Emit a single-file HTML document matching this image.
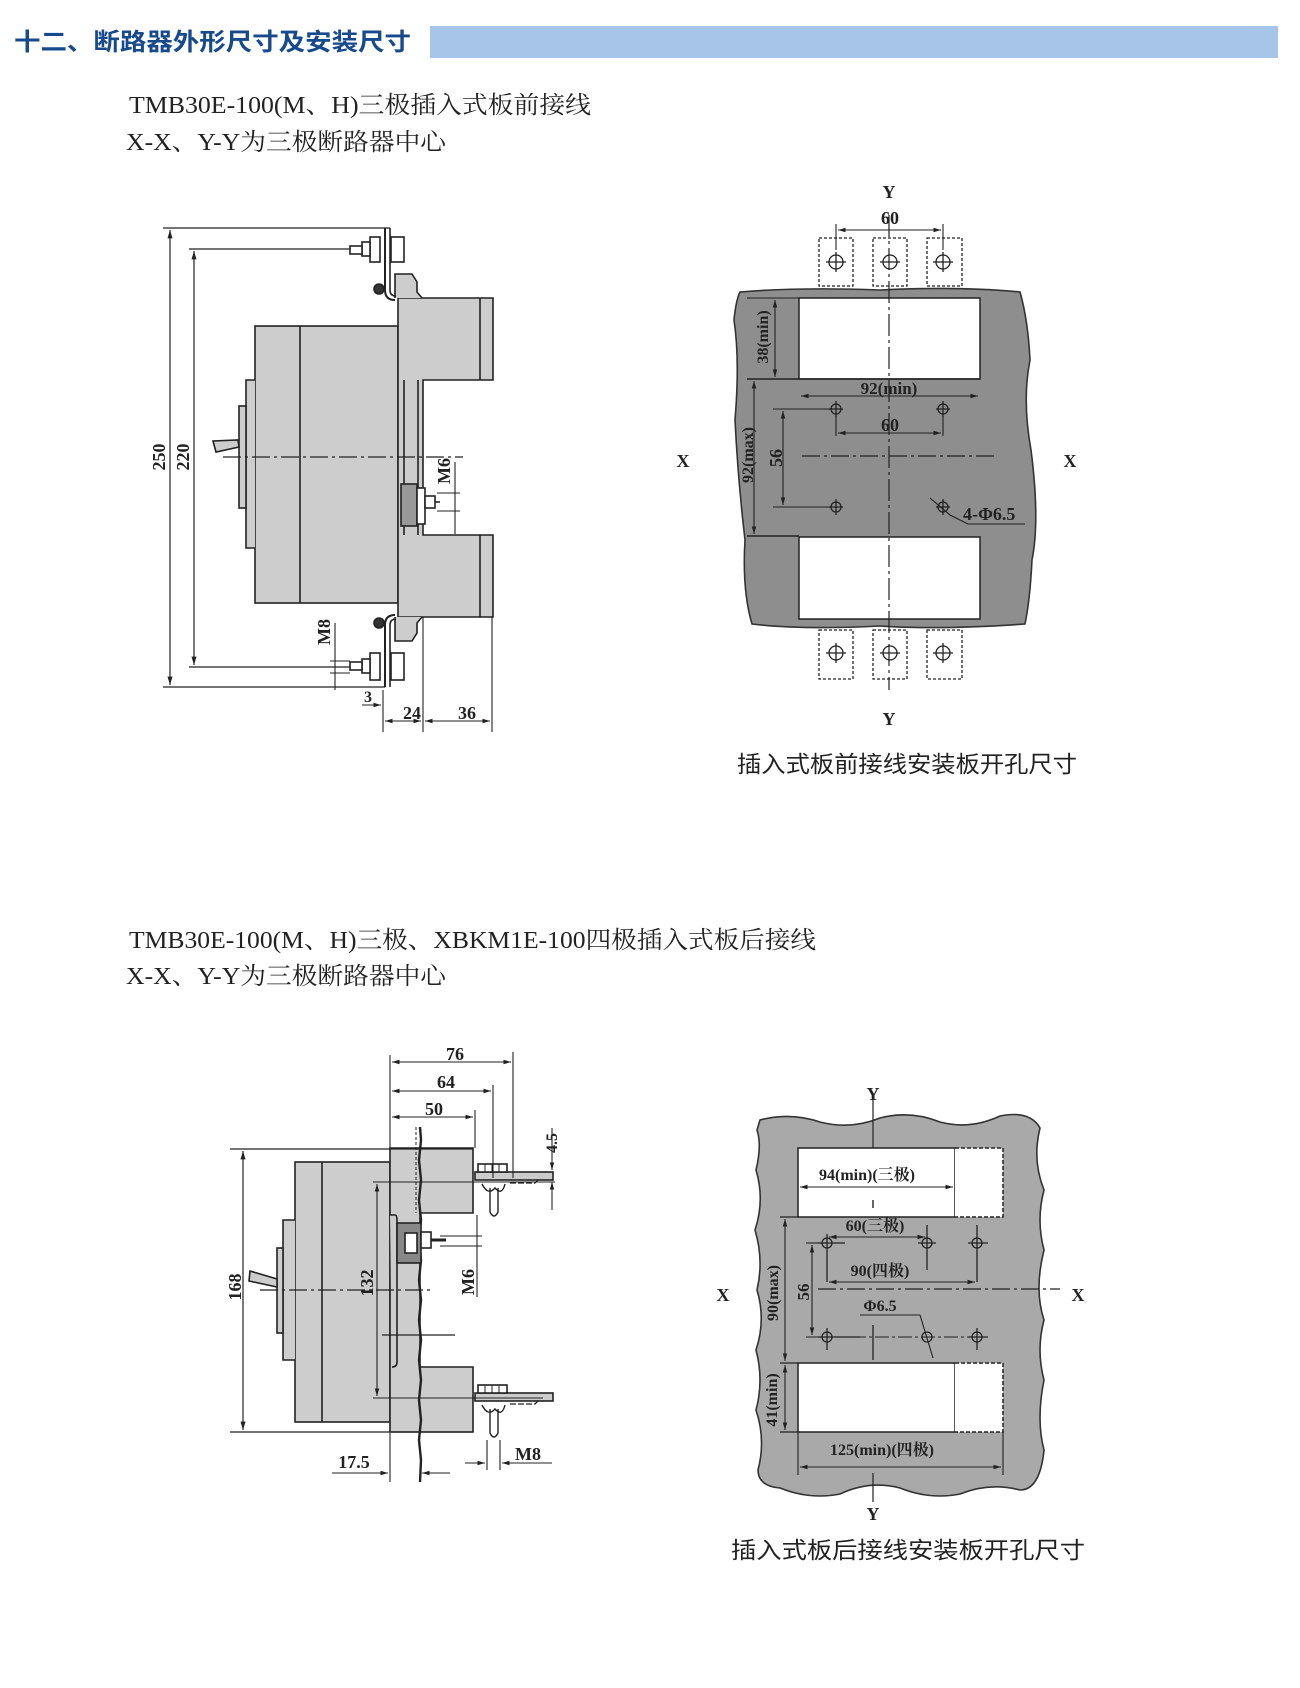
<!DOCTYPE html>
<html><head><meta charset="utf-8">
<style>
html,body{margin:0;padding:0;background:#fff;}
svg{display:block;}
.t{font-family:"Liberation Serif","Noto Serif CJK SC",serif;font-weight:bold;fill:#222;}
.s{font-family:"Liberation Serif","Noto Serif CJK SC",serif;fill:#222;}
.c{font-family:"Liberation Sans","Noto Sans CJK SC",sans-serif;fill:#222;}
</style></head>
<body>
<svg width="1300" height="1688" viewBox="0 0 1300 1688" xmlns="http://www.w3.org/2000/svg">
<defs>
<marker id="a" viewBox="0 0 10 10" refX="10" refY="5" markerWidth="7" markerHeight="7" orient="auto-start-reverse"><path d="M0,2 L10,5 L0,8 z" fill="#222"/></marker>
</defs>
<text x="14" y="50" font-family="'Liberation Sans','Noto Sans CJK SC',sans-serif" font-weight="bold" font-size="24" fill="#174a8c" textLength="397" lengthAdjust="spacingAndGlyphs">十二、断路器外形尺寸及安装尺寸</text>
<rect x="430" y="26" width="848" height="32" fill="#a6c5e8"/>

<text x="129" y="113" class="s" font-size="24" textLength="462" lengthAdjust="spacingAndGlyphs">TMB30E-100(M、H)三极插入式板前接线</text>
<text x="126" y="150" class="s" font-size="24" textLength="320" lengthAdjust="spacingAndGlyphs">X-X、Y-Y为三极断路器中心</text>

<g stroke="#222" stroke-width="1.6" fill="none">
<rect x="255" y="326" width="143" height="277" fill="#cdcdcd"/>
<path d="M255 380 H246 V548 H255" fill="#cdcdcd"/>
<rect x="239" y="406" width="7" height="102" fill="#cdcdcd"/>
<line x1="300" y1="326" x2="300" y2="603"/>
<path d="M213 441 L216 452 L239 447 L238 440 Z" fill="#cdcdcd"/>
<path d="M398 298 H493 V380 H423 V535 H493 V617 H398 Z" fill="#cdcdcd"/>
<line x1="480" y1="298" x2="480" y2="380"/>
<line x1="480" y1="535" x2="480" y2="617"/>
<path d="M395 298 V274 H412 L417 282 V292 L422 298" fill="#cdcdcd"/>
<path d="M395 617 V641 H412 L417 633 V623 L422 617" fill="#cdcdcd"/>
<line x1="404" y1="380" x2="404" y2="535"/>
<line x1="418" y1="380" x2="418" y2="535"/>
<path d="M385 228 V290 Q385 300 395 300" stroke-width="2"/>
<path d="M390 228 V290 Q390 296 396 296"/>
<path d="M385 687 V625 Q385 615 395 615" stroke-width="2"/>
<path d="M390 687 V625 Q390 619 396 619"/>
<rect x="370" y="237" width="10" height="25" fill="#fff"/>
<rect x="362" y="242" width="8" height="14" fill="#fff"/>
<rect x="350" y="246" width="12" height="8" fill="#fff"/>
<rect x="391" y="237" width="13" height="25" fill="#fff"/>
<rect x="370" y="653" width="10" height="27" fill="#fff"/>
<rect x="362" y="659" width="8" height="14" fill="#fff"/>
<rect x="350" y="662" width="12" height="8" fill="#fff"/>
<rect x="391" y="653" width="13" height="27" fill="#fff"/>
<circle cx="379" cy="289" r="5" fill="#333"/>
<circle cx="379" cy="623" r="5" fill="#333"/>
<rect x="401" y="484" width="16" height="42" fill="#999"/>
<rect x="417" y="488" width="8" height="36" fill="#fff"/>
<rect x="425" y="496" width="10" height="12" fill="#fff"/>
<line x1="435" y1="502" x2="440" y2="502"/>
<line x1="223" y1="457" x2="463" y2="457" stroke-dasharray="18 4 3 4" stroke-width="1.2"/>
<line x1="163" y1="228" x2="390" y2="228" stroke-width="1.2"/>
<line x1="189" y1="249" x2="350" y2="249" stroke-width="1.2"/>
<line x1="189" y1="667" x2="350" y2="667" stroke-width="1.2"/>
<line x1="163" y1="687" x2="385" y2="687" stroke-width="1.2"/>
<line x1="170" y1="230" x2="170" y2="685" stroke-width="1.2" marker-start="url(#a)" marker-end="url(#a)"/>
<line x1="194" y1="251" x2="194" y2="665" stroke-width="1.2" marker-start="url(#a)" marker-end="url(#a)"/>
<line x1="455" y1="462" x2="455" y2="534" stroke-width="1.1"/>
<line x1="437" y1="493" x2="460" y2="493" stroke-width="1"/>
<line x1="437" y1="511" x2="460" y2="511" stroke-width="1"/>
<line x1="335" y1="623" x2="335" y2="690" stroke-width="1.1"/>
<line x1="330" y1="661" x2="350" y2="661" stroke-width="1"/>
<line x1="330" y1="673" x2="350" y2="673" stroke-width="1"/>
<line x1="383" y1="690" x2="383" y2="732" stroke-width="1.1"/>
<line x1="423" y1="617" x2="423" y2="732" stroke-width="1.1"/>
<line x1="492" y1="617" x2="492" y2="732" stroke-width="1.1"/>
<line x1="385" y1="721" x2="421" y2="721" stroke-width="1.1" marker-start="url(#a)" marker-end="url(#a)"/>
<line x1="425" y1="721" x2="490" y2="721" stroke-width="1.1" marker-start="url(#a)" marker-end="url(#a)"/>
<line x1="362" y1="705" x2="381" y2="705" stroke-width="1.1" marker-end="url(#a)"/>
</g>
<g class="t" font-size="18">
<text transform="translate(165,457) rotate(-90)" text-anchor="middle">250</text>
<text transform="translate(189,457) rotate(-90)" text-anchor="middle">220</text>
<text transform="translate(450,471) rotate(-90)" text-anchor="middle">M6</text>
<text transform="translate(330,632) rotate(-90)" text-anchor="middle">M8</text>
<text x="364" y="702" font-size="16">3</text>
<text x="403" y="719">24</text>
<text x="458" y="719">36</text>
</g>

<path d="M740 292 Q800 287 880 290 Q960 286 1020 292 Q1028 320 1030 360 Q1022 400 1031 450 Q1040 520 1032 560 Q1030 600 1025 624 Q940 630 880 626 Q800 630 752 624 Q742 590 745 540 Q738 480 735 420 Q740 360 734 320 Q736 300 740 292 Z" fill="#8e8e8e" stroke="#333" stroke-width="1.6"/>
<g stroke="#222" stroke-width="1.5" fill="none">
<rect x="799" y="298" width="181" height="81" fill="#fff"/>
<rect x="799" y="537" width="181" height="82" fill="#fff"/>
<g stroke-dasharray="3 2" stroke-width="1.3" fill="#fff">
<rect x="819" y="238" width="34" height="48"/><rect x="873" y="238" width="34" height="48"/><rect x="927" y="238" width="35" height="48"/>
<rect x="819" y="630" width="34" height="49"/><rect x="873" y="630" width="34" height="49"/><rect x="927" y="630" width="35" height="49"/>
</g>
<g stroke-width="1.3">
<circle cx="836" cy="262" r="7"/><circle cx="890" cy="262" r="7"/><circle cx="943" cy="262" r="7"/>
<circle cx="836" cy="653" r="7"/><circle cx="890" cy="653" r="7"/><circle cx="943" cy="653" r="7"/>
<path d="M826 262H846M836 252V272M880 262H900M933 262H953M943 252V272M826 653H846M836 643V663M880 653H900M933 653H953M943 643V663"/>
<circle cx="836" cy="409" r="5"/><circle cx="943" cy="409" r="5"/><circle cx="836" cy="507" r="5"/><circle cx="943" cy="507" r="5"/>
<path d="M829 409H843M836 401V417M936 409H950M943 401V417M829 507H843M836 499V515M936 507H950M943 499V515"/>
</g>
<line x1="889" y1="215" x2="889" y2="690" stroke-dasharray="22 4 3 4" stroke-width="1.2"/>
<line x1="802" y1="456" x2="998" y2="456" stroke-dasharray="18 4 3 4" stroke-width="1.2"/>
<line x1="836" y1="224" x2="836" y2="250" stroke-width="1.1"/>
<line x1="943" y1="224" x2="943" y2="250" stroke-width="1.1"/>
<line x1="838" y1="230" x2="941" y2="230" stroke-width="1.1" marker-start="url(#a)" marker-end="url(#a)"/>
<line x1="747" y1="298" x2="799" y2="298" stroke-width="1.1"/>
<line x1="747" y1="379" x2="980" y2="379" stroke-width="1.4"/>
<line x1="747" y1="536" x2="799" y2="536" stroke-width="1.4"/>
<line x1="775" y1="300" x2="775" y2="377" stroke-width="1.1" marker-start="url(#a)" marker-end="url(#a)"/>
<line x1="754" y1="381" x2="754" y2="534" stroke-width="1.1" marker-start="url(#a)" marker-end="url(#a)"/>
<line x1="801" y1="396" x2="978" y2="396" stroke-width="1.1" marker-start="url(#a)" marker-end="url(#a)"/>
<line x1="773" y1="409" x2="830" y2="409" stroke-width="1.1"/>
<line x1="773" y1="507" x2="830" y2="507" stroke-width="1.1"/>
<line x1="783" y1="411" x2="783" y2="505" stroke-width="1.1" marker-start="url(#a)" marker-end="url(#a)"/>
<line x1="836" y1="416" x2="836" y2="436" stroke-width="1.1"/>
<line x1="943" y1="416" x2="943" y2="436" stroke-width="1.1"/>
<line x1="838" y1="433" x2="941" y2="433" stroke-width="1.1" marker-start="url(#a)" marker-end="url(#a)"/>
<path d="M930 498 L950 515 L968 524 H1025" stroke-width="1.1"/>
</g>
<g class="t" font-size="18">
<text x="889" y="198" text-anchor="middle">Y</text>
<text x="890" y="224" text-anchor="middle">60</text>
<text x="889" y="394" text-anchor="middle" font-size="17">92(min)</text>
<text x="890" y="431" text-anchor="middle">60</text>
<text x="683" y="467" text-anchor="middle">X</text>
<text x="1070" y="467" text-anchor="middle">X</text>
<text transform="translate(768,337) rotate(-90)" text-anchor="middle" font-size="16">38(min)</text>
<text transform="translate(753,455) rotate(-90)" text-anchor="middle" font-size="16">92(max)</text>
<text transform="translate(782,458) rotate(-90)" text-anchor="middle">56</text>
<text x="963" y="520">4-Φ6.5</text>
<text x="889" y="725" text-anchor="middle">Y</text>
</g>
<text x="737" y="772" class="c" font-size="23" textLength="340" lengthAdjust="spacingAndGlyphs">插入式板前接线安装板开孔尺寸</text>

<text x="129" y="948" class="s" font-size="24" textLength="687" lengthAdjust="spacingAndGlyphs">TMB30E-100(M、H)三极、XBKM1E-100四极插入式板后接线</text>
<text x="126" y="984" class="s" font-size="24" textLength="320" lengthAdjust="spacingAndGlyphs">X-X、Y-Y为三极断路器中心</text>

<g stroke="#222" stroke-width="1.6" fill="none">
<rect x="295" y="1162" width="95" height="260" fill="#cdcdcd"/>
<path d="M295 1220 H283 V1360 H295" fill="#cdcdcd"/>
<rect x="277" y="1248" width="6" height="85" fill="#cdcdcd"/>
<line x1="322" y1="1162" x2="322" y2="1422"/>
<path d="M250 1271 L249 1281 L277 1287 L277 1279 Z" fill="#cdcdcd"/>
<path d="M390 1148 H473 V1213 H420 V1367 H473 V1432 H390 Z" fill="#cdcdcd"/>
<path d="M390 1215 H395 Q397 1215 397 1220 V1362 Q397 1367 392 1367" fill="#cdcdcd"/>
<path d="M420 1127 L421 1140 L419 1160 L421 1180 L419 1200 L421 1220 L419 1240 L421 1260 L419 1280 L421 1300 L419 1320 L421 1340 L419 1360 L421 1380 L419 1400 L421 1420 L419 1440 L421 1460 L420 1482" stroke-width="2.4"/>
<line x1="416" y1="1127" x2="416" y2="1213" stroke-dasharray="3 2" stroke-width="1"/>
<rect x="397" y="1223" width="24" height="40" fill="#888"/>
<rect x="405" y="1233" width="12" height="20" fill="#fff"/>
<rect x="421" y="1232" width="10" height="16" fill="#fff"/>
<line x1="431" y1="1240" x2="446" y2="1240" stroke-width="3"/>
<rect x="475" y="1172" width="78" height="8" fill="#ccc"/>
<rect x="478" y="1164" width="29" height="8" fill="#fff"/>
<path d="M485 1164V1172M492 1164V1172M499 1164V1172" stroke-width="1"/>
<path d="M482 1184 Q488 1196 495 1188 Q502 1196 505 1184 M490 1188 V1212 Q494 1220 498 1212 V1188" stroke-width="1.4"/>
<path d="M510 1183 H535 L540 1178" stroke-dasharray="6 2" stroke-width="1.3"/>
<rect x="475" y="1393" width="78" height="8" fill="#ccc"/>
<rect x="478" y="1385" width="29" height="8" fill="#fff"/>
<path d="M485 1385V1393M492 1385V1393M499 1385V1393" stroke-width="1"/>
<path d="M482 1405 Q488 1417 495 1409 Q502 1417 505 1405 M490 1409 V1433 Q494 1441 498 1433 V1409" stroke-width="1.4"/>
<path d="M510 1404 H535 L540 1399" stroke-dasharray="6 2" stroke-width="1.3"/>
<line x1="260" y1="1290" x2="432" y2="1290" stroke-dasharray="18 4 3 4" stroke-width="1.2"/>
<line x1="382" y1="1335" x2="455" y2="1335" stroke-width="1.2"/>
<line x1="230" y1="1149" x2="473" y2="1149" stroke-width="1.2"/>
<line x1="230" y1="1432" x2="473" y2="1432" stroke-width="1.2"/>
<line x1="243" y1="1151" x2="243" y2="1430" stroke-width="1.2" marker-start="url(#a)" marker-end="url(#a)"/>
<line x1="373" y1="1182" x2="555" y2="1182" stroke-width="1.1"/>
<line x1="373" y1="1398" x2="543" y2="1398" stroke-width="1.1"/>
<line x1="377" y1="1184" x2="377" y2="1396" stroke-width="1.1" marker-start="url(#a)" marker-end="url(#a)"/>
<line x1="390" y1="1055" x2="390" y2="1148" stroke-width="1.1"/>
<line x1="513" y1="1052" x2="513" y2="1178" stroke-width="1.1"/>
<line x1="493" y1="1085" x2="493" y2="1178" stroke-width="1.1"/>
<line x1="475" y1="1110" x2="475" y2="1148" stroke-width="1.1"/>
<line x1="392" y1="1062" x2="511" y2="1062" stroke-width="1.1" marker-start="url(#a)" marker-end="url(#a)"/>
<line x1="392" y1="1091" x2="491" y2="1091" stroke-width="1.1" marker-start="url(#a)" marker-end="url(#a)"/>
<line x1="392" y1="1117" x2="473" y2="1117" stroke-width="1.1" marker-start="url(#a)" marker-end="url(#a)"/>
<line x1="552" y1="1128" x2="552" y2="1170" stroke-width="1.1" marker-end="url(#a)"/>
<line x1="552" y1="1210" x2="552" y2="1182" stroke-width="1.1" marker-end="url(#a)"/>
<line x1="477" y1="1215" x2="477" y2="1297" stroke-width="1.1"/>
<line x1="440" y1="1236" x2="482" y2="1236" stroke-width="1"/>
<line x1="440" y1="1246" x2="482" y2="1246" stroke-width="1"/>
<line x1="390" y1="1433" x2="390" y2="1482" stroke-width="1.1"/>
<line x1="332" y1="1473" x2="388" y2="1473" stroke-width="1.1" marker-end="url(#a)"/>
<line x1="450" y1="1473" x2="422" y2="1473" stroke-width="1.1" marker-end="url(#a)"/>
<line x1="487" y1="1440" x2="487" y2="1470" stroke-width="1.1"/>
<line x1="500" y1="1440" x2="500" y2="1470" stroke-width="1.1"/>
<line x1="465" y1="1463" x2="485" y2="1463" stroke-width="1.1" marker-end="url(#a)"/>
<line x1="552" y1="1463" x2="502" y2="1463" stroke-width="1.1" marker-end="url(#a)"/>
</g>
<g class="t" font-size="18">
<text x="455" y="1060" text-anchor="middle">76</text>
<text x="446" y="1088" text-anchor="middle">64</text>
<text x="434" y="1115" text-anchor="middle">50</text>
<text transform="translate(557,1143) rotate(-90)" text-anchor="middle" font-size="16">4.5</text>
<text transform="translate(241,1287) rotate(-90)" text-anchor="middle">168</text>
<text transform="translate(373,1283) rotate(-90)" text-anchor="middle">132</text>
<text transform="translate(474,1282) rotate(-90)" text-anchor="middle">M6</text>
<text x="354" y="1468" text-anchor="middle">17.5</text>
<text x="528" y="1460" text-anchor="middle">M8</text>
</g>

<path d="M760 1120 Q790 1112 820 1122 Q850 1130 880 1118 Q910 1110 940 1122 Q970 1130 1000 1116 Q1030 1110 1040 1128 Q1032 1160 1044 1190 Q1036 1220 1044 1250 Q1034 1290 1044 1320 Q1036 1350 1044 1380 Q1036 1420 1044 1450 Q1040 1490 1020 1490 Q990 1482 960 1494 Q930 1500 900 1488 Q870 1480 840 1494 Q810 1500 780 1488 Q758 1486 758 1470 Q766 1440 756 1410 Q764 1380 756 1350 Q766 1320 757 1290 Q764 1260 755 1230 Q765 1200 756 1170 Q762 1145 757 1130 Z" fill="#a9a9a9" stroke="#333" stroke-width="1.6"/>
<g stroke="#222" stroke-width="1.5" fill="none">
<rect x="798" y="1148" width="157" height="69" fill="#fff"/>
<path d="M955 1148 H1003 V1217 H955" stroke-dasharray="4 2" fill="#fff"/>
<rect x="798" y="1363" width="157" height="69" fill="#fff"/>
<path d="M955 1363 H1003 V1432 H955" stroke-dasharray="4 2" fill="#fff"/>
<line x1="873" y1="1100" x2="873" y2="1148" stroke-width="1.2"/>
<line x1="873" y1="1200" x2="873" y2="1208" stroke-width="1.4"/>
<line x1="873" y1="1473" x2="873" y2="1502" stroke-width="1.2"/>
<line x1="800" y1="1187" x2="953" y2="1187" stroke-width="1.1" marker-start="url(#a)" marker-end="url(#a)"/>
<line x1="780" y1="1217" x2="798" y2="1217" stroke-width="1.2"/>
<line x1="780" y1="1363" x2="798" y2="1363" stroke-width="1.2"/>
<line x1="780" y1="1432" x2="798" y2="1432" stroke-width="1.2"/>
<line x1="785" y1="1219" x2="785" y2="1361" stroke-width="1.1" marker-start="url(#a)" marker-end="url(#a)"/>
<line x1="785" y1="1365" x2="785" y2="1430" stroke-width="1.1" marker-start="url(#a)" marker-end="url(#a)"/>
<line x1="798" y1="1432" x2="798" y2="1475" stroke-width="1.1"/>
<line x1="1003" y1="1432" x2="1003" y2="1475" stroke-width="1.1"/>
<line x1="800" y1="1467" x2="1001" y2="1467" stroke-width="1.1" marker-start="url(#a)" marker-end="url(#a)"/>
<g stroke-width="1.3">
<circle cx="827" cy="1243" r="5"/><circle cx="927" cy="1243" r="5"/><circle cx="977" cy="1243" r="5"/>
<circle cx="827" cy="1337" r="5"/><circle cx="927" cy="1337" r="5"/><circle cx="977" cy="1337" r="5"/>
<path d="M818 1243H845M827 1234V1282M918 1243H936M927 1225V1270M968 1243H988M977 1225V1282M818 1337H860M827 1328V1350M968 1337H988M977 1328V1350M873 1325V1360"/>
</g>
<line x1="806" y1="1243" x2="820" y2="1243" stroke-width="1.1"/>
<line x1="806" y1="1337" x2="980" y2="1337" stroke-dasharray="14 3 3 3" stroke-width="1.1"/>
<line x1="818" y1="1289" x2="1060" y2="1289" stroke-dasharray="18 4 3 4" stroke-width="1.2"/>
<line x1="812" y1="1245" x2="812" y2="1335" stroke-width="1.1" marker-start="url(#a)" marker-end="url(#a)"/>
<line x1="829" y1="1237" x2="925" y2="1237" stroke-width="1.1" marker-start="url(#a)" marker-end="url(#a)"/>
<line x1="829" y1="1282" x2="975" y2="1282" stroke-width="1.1" marker-start="url(#a)" marker-end="url(#a)"/>
<path d="M860 1315 H920 L933 1358" stroke-width="1.1"/>
</g>
<g class="t" font-size="16">
<text x="873" y="1100" text-anchor="middle" font-size="18">Y</text>
<text x="867" y="1180" text-anchor="middle">94(min)(三极)</text>
<text x="875" y="1231" text-anchor="middle">60(三极)</text>
<text x="880" y="1276" text-anchor="middle">90(四极)</text>
<text x="880" y="1311" text-anchor="middle">Φ6.5</text>
<text x="723" y="1301" text-anchor="middle" font-size="18">X</text>
<text x="1078" y="1301" text-anchor="middle" font-size="18">X</text>
<text transform="translate(778,1293) rotate(-90)" text-anchor="middle">90(max)</text>
<text transform="translate(809,1292) rotate(-90)" text-anchor="middle" font-size="17">56</text>
<text transform="translate(777,1400) rotate(-90)" text-anchor="middle">41(min)</text>
<text x="882" y="1455" text-anchor="middle">125(min)(四极)</text>
<text x="873" y="1520" text-anchor="middle" font-size="18">Y</text>
</g>
<text x="731" y="1558" class="c" font-size="23" textLength="354" lengthAdjust="spacingAndGlyphs">插入式板后接线安装板开孔尺寸</text>
</svg>
</body></html>
